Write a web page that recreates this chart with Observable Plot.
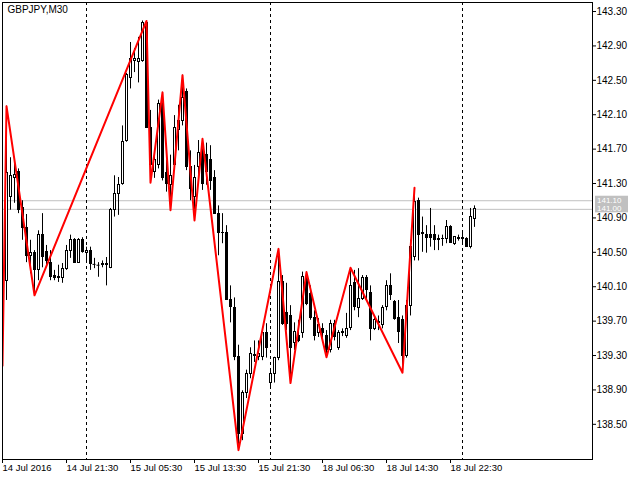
<!DOCTYPE html>
<html><head><meta charset="utf-8">
<script src="https://cdn.jsdelivr.net/npm/d3@7"></script>
<script src="https://cdn.jsdelivr.net/npm/@observablehq/plot@0.6"></script>
<style>html,body{margin:0;padding:0;background:#fff}svg{display:block}</style>
</head><body><div id="chart"></div>
<script>
const symbolTitle = "GBPJPY,M30";
// bar index (M30 bars, index 0 = 14 Jul 2016 13:30)
const barIndex = d3.range(-1, 118);
const open = [139.94,140.17,141.14,141.37,141.43,141.02,140.78,140.46,140.49,140.29,140.70,140.50,140.38,140.23,140.20,140.20,140.31,140.52,140.64,140.38,140.64,140.49,140.52,140.36,140.35,140.35,140.35,140.32,140.99,141.18,141.30,141.80,142.53,142.73,142.71,142.73,143.17,141.95,141.43,141.51,142.21,141.42,141.28,141.51,141.92,142.03,142.36,141.49,141.14,141.49,141.72,141.63,141.57,141.36,140.95,140.73,140.72,139.94,139.85,139.28,138.39,138.86,139.09,139.30,139.28,139.28,139.56,138.98,139.09,139.27,140.15,139.79,139.76,139.45,139.53,139.56,140.21,140.02,139.74,139.56,139.61,139.53,139.36,139.67,139.39,139.56,139.53,139.62,140.14,139.85,139.96,140.20,140.03,139.61,139.68,139.65,139.86,140.11,139.92,139.74,139.71,139.30,139.88,140.44,141.10,140.72,140.70,140.70,140.70,140.65,140.65,140.66,140.79,140.60,140.66,140.67,140.66,140.56,140.89];
const high = [140.81,142.20,141.60,141.57,141.47,141.10,140.94,140.64,140.52,140.75,140.95,140.58,140.52,140.29,140.35,140.37,140.58,140.70,140.66,140.66,140.67,140.56,140.56,140.43,140.38,140.40,140.44,141.01,141.39,141.37,141.97,142.58,142.94,142.87,143.00,143.19,143.19,142.15,141.68,142.27,142.36,141.57,141.63,142.09,142.21,142.56,142.40,141.68,141.51,141.80,141.82,141.77,141.74,141.45,141.04,140.95,140.81,140.11,139.97,139.42,138.89,139.13,139.39,139.47,139.47,139.59,139.67,139.13,139.28,140.54,140.23,140.14,139.88,139.68,139.71,140.27,140.27,140.11,139.82,139.73,139.67,139.59,139.71,139.71,139.59,139.61,139.79,140.32,140.29,140.31,140.23,140.23,140.11,139.74,139.76,139.88,140.17,140.25,139.94,139.94,139.76,139.94,140.64,141.25,141.13,140.91,140.81,141.01,140.81,140.70,140.70,140.87,140.81,140.68,140.70,140.75,140.67,141.01,141.04];
const low = [139.18,139.94,140.99,141.07,140.95,140.64,140.38,140.25,140.00,140.17,140.32,140.35,140.17,140.17,140.15,140.14,140.29,140.43,140.37,140.37,140.49,140.40,140.29,140.31,140.21,140.32,140.11,140.31,140.91,140.93,141.28,141.78,142.40,142.59,142.47,142.71,141.95,141.31,141.36,141.47,141.33,141.20,140.99,141.45,141.68,141.97,141.45,141.10,140.87,141.39,141.22,141.28,141.22,140.95,140.46,140.60,139.94,139.68,139.24,138.20,138.31,138.80,139.03,139.22,139.24,139.24,139.27,138.92,138.98,139.24,139.65,139.59,138.98,139.36,139.45,139.50,139.88,139.71,139.47,139.51,139.50,139.28,139.33,139.47,139.36,139.52,139.50,139.59,139.82,139.74,139.94,139.94,139.47,139.59,139.59,139.61,139.82,139.94,139.71,139.44,139.10,139.27,139.76,140.40,140.40,140.50,140.49,140.56,140.52,140.52,140.57,140.60,140.61,140.58,140.63,140.60,140.56,140.54,140.79];
const close = [140.17,141.42,141.39,141.40,140.99,140.78,140.46,140.49,140.29,140.70,140.44,140.40,140.21,140.20,140.21,140.31,140.52,140.64,140.38,140.64,140.50,140.52,140.37,140.36,140.35,140.36,140.36,140.99,141.18,141.28,141.78,142.56,142.75,142.75,142.75,143.17,141.95,141.51,141.57,142.23,141.37,141.30,141.39,141.95,142.03,142.30,141.49,141.24,141.37,141.65,141.30,141.43,141.33,140.95,140.73,140.72,139.94,139.86,139.28,138.39,138.86,139.09,139.32,139.31,139.32,139.56,139.39,139.09,139.27,140.15,139.67,139.67,139.39,139.57,139.47,140.21,139.90,139.74,139.53,139.65,139.56,139.36,139.67,139.51,139.56,139.57,139.61,140.11,139.86,139.96,140.20,140.06,139.61,139.71,139.69,139.85,140.11,140.00,139.73,139.57,139.30,139.88,140.56,141.08,140.70,140.71,140.67,140.67,140.64,140.64,140.66,140.80,140.61,140.68,140.67,140.66,140.56,140.91,141.00];
// ZigZag vertices
const zigIndex = [-1,0,7,35,36,39,41,44,47,49,58,68,71,75,80,86,99,102];
const zigPrice = [139.18,142.20,140.00,143.19,141.31,142.36,140.99,142.56,140.87,141.82,138.20,140.54,138.98,140.27,139.28,140.32,139.10,141.25];
// axis ticks
const xTickIndex = [0,16,32,48,64,80,96,112];
const xTickLabels = ["14 Jul 2016","14 Jul 21:30","15 Jul 05:30","15 Jul 13:30","15 Jul 21:30","18 Jul 06:30","18 Jul 14:30","18 Jul 22:30"];
const yTicks = [138.5,138.9,139.3,139.7,140.1,140.5,140.9,141.3,141.7,142.1,142.5,142.9,143.3];
// day separators (bar index of day start)
const separators = [21,67,115];
// current quote lines
const askPrice = 141.10;
const bidPrice = 141.00;

const bars = barIndex.map((i,k)=>({i, open:open[k], high:high[k], low:low[k], close:close[k]}));
const zz = zigIndex.map((i,k)=>({i, price:zigPrice[k]}));
const dojis = bars.filter(d => d.open === d.close);

const plot = Plot.plot({
  width: 640, height: 480,
  marginLeft: 2, marginTop: 2, marginRight: 48, marginBottom: 21,
  style: {fontFamily: "'Liberation Sans', Arial, sans-serif", fontSize: "10px", background: "white", color: "black", overflow: "visible"},
  x: {domain: [-1, 146.5], axis: null},
  y: {domain: [138.091, 143.405], axis: null},
  marks: [
    Plot.ruleY([askPrice, bidPrice], {stroke: "#c0c0c0"}),
    Plot.ruleX(separators, {x: d => d, stroke: "black", strokeDasharray: "3,3", dx: -4}),
    Plot.ruleX(bars, {x: "i", y1: "low", y2: "high", stroke: "black", clip: true}),
    Plot.rect(bars, {x1: d => d.i - 0.25, x2: d => d.i + 0.25, y1: "open", y2: "close", dx: 0.5,
      fill: d => d.close >= d.open ? "white" : "black", stroke: "black", shapeRendering: "crispEdges", clip: true}),
    Plot.ruleY(dojis, {y: "open", x1: d => d.i - 0.375, x2: d => d.i + 0.375, stroke: "black"}),
    Plot.line(zz, {x: "i", y: "price", stroke: "#ff0000", strokeWidth: 2, clip: true}),
    Plot.frame({stroke: "black"}),
    Plot.axisY({anchor: "right", label: null, ticks: yTicks, tickFormat: d3.format(".2f"), tickSize: 3, tickPadding: 1}),
    Plot.axisX({anchor: "bottom", label: null, ticks: xTickIndex, tickFormat: (d) => xTickLabels[xTickIndex.indexOf(d)], textAnchor: "start", tickSize: 4, tickPadding: 1, dx: -4, fontSize: 9.5}),
    Plot.text([symbolTitle], {frameAnchor: "top-left", text: d => d, textAnchor: "start", lineAnchor: "top", dx: 5, dy: 3, fontSize: 10})
  ]
});
document.getElementById("chart").appendChild(plot);

// quote labels on the price scale
const ys = plot.scale("y");
const xs = plot.scale("x");
const xr = xs.range[1];
const svg = d3.select(plot);
const g = svg.append("g").attr("text-anchor", "start").attr("font-family", "'Liberation Sans', Arial, sans-serif");
g.append("rect").attr("x", xr + 3).attr("y", ys.apply(askPrice) - 4.5)
  .attr("width", 33).attr("height", ys.apply(bidPrice) - ys.apply(askPrice) + 8).attr("fill", "#c0c0c0");
[askPrice, bidPrice].forEach(p => {
  g.append("text").attr("x", xr + 5).attr("y", ys.apply(p) + 2.5)
    .attr("fill", "white").attr("font-size", 8).text(d3.format(".2f")(p));
});
</script>
</body></html>
